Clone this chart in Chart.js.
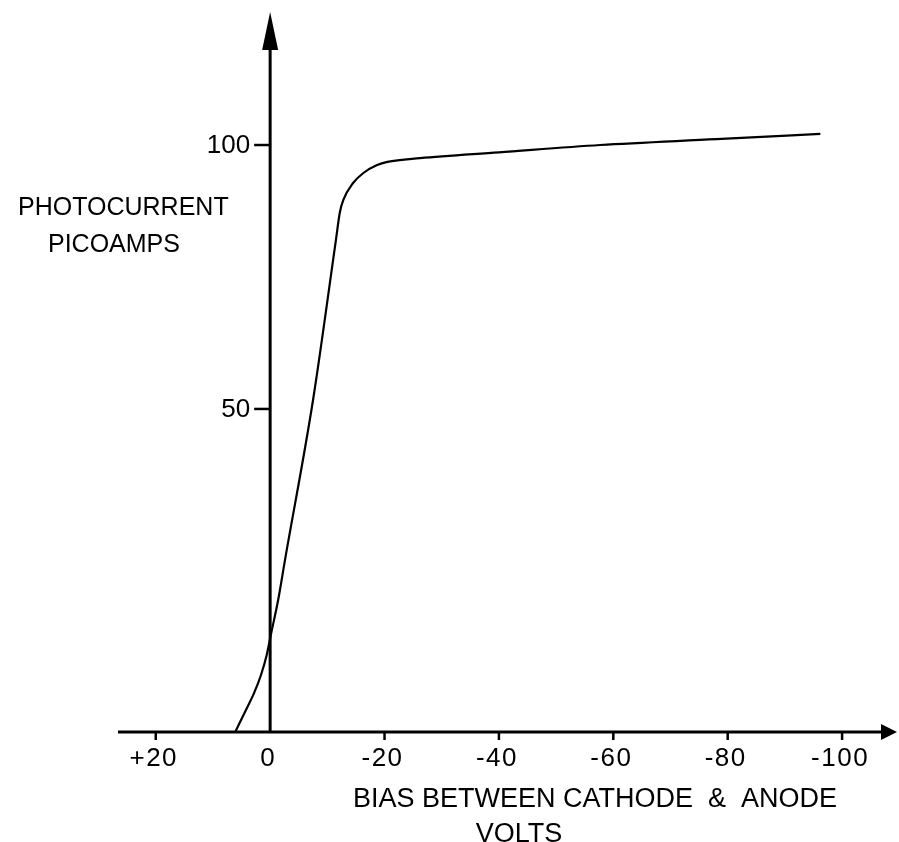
<!DOCTYPE html>
<html>
<head>
<meta charset="utf-8">
<script src="https://cdn.jsdelivr.net/npm/chart.js@4/dist/chart.umd.min.js"></script>
<style>
  html, body { margin: 0; padding: 0; background: #fff; }
  #wrap { width: 899px; height: 842px; }
</style>
</head>
<body>
<div id="wrap"><canvas id="chart" width="899" height="842"></canvas></div>
<script>
// Photocurrent against bias voltage (x runs from positive on the left to negative on the right)
const biasVolts = [6.1, 4.4, 2.8, 1.6, 0.6, -0.2, -1.4, -2.6, -7.5, -11.5, -12.2, -12.8, -14.5, -16.3, -18.7, -20.5, -26.2, -40, -57.7, -78, -96.2];
const photocurrent = [-11.2, -7.4, -3.8, -0.4, 3.4, 7.6, 13.8, 21.4, 51.7, 82, 87.3, 89.6, 92.8, 94.7, 96.2, 96.8, 97.5, 98.6, 100, 101.1, 102.1];

const xTickValues = [20, 0, -20, -40, -60, -80, -100];
const xTickLabels = ['+20', '0', '-20', '-40', '-60', '-80', '-100'];
const yTickValues = [50, 100];
const yTickLabels = ['50', '100'];

const yTitle = ['PHOTOCURRENT', 'PICOAMPS'];
const xTitle = ['BIAS BETWEEN CATHODE  &  ANODE', 'VOLTS'];

// axis extents
const X_MIN = -109.6, X_MAX = 26.6;
const Y_MIN = -11.2, Y_MAX = 125.2;

const FONT = '"Liberation Sans", Arial, sans-serif';

const points = biasVolts.map((v, i) => ({ x: v, y: photocurrent[i] }));

// hand-drawn style axes: lines with arrow heads, short ticks and plain labels
const axesPlugin = {
  id: 'sketchAxes',
  afterDatasetsDraw(chart) {
    const { ctx, chartArea, scales } = chart;
    const xs = scales.x, ys = scales.y;
    const x0 = xs.getPixelForValue(0);
    const yBase = ys.getPixelForValue(Y_MIN);

    ctx.save();
    ctx.strokeStyle = '#000';
    ctx.fillStyle = '#000';
    ctx.lineWidth = 3;
    ctx.lineCap = 'butt';

    // x axis + arrow
    ctx.beginPath();
    ctx.moveTo(chartArea.left, yBase);
    ctx.lineTo(chartArea.right - 12, yBase);
    ctx.stroke();
    ctx.beginPath();
    ctx.moveTo(chartArea.right, yBase);
    ctx.lineTo(chartArea.right - 16, yBase - 8);
    ctx.lineTo(chartArea.right - 16, yBase + 8);
    ctx.closePath();
    ctx.fill();

    // y axis + arrow
    ctx.beginPath();
    ctx.moveTo(x0, yBase);
    ctx.lineTo(x0, chartArea.top + 30);
    ctx.stroke();
    ctx.beginPath();
    ctx.moveTo(x0, chartArea.top);
    ctx.lineTo(x0 - 8, chartArea.top + 38);
    ctx.lineTo(x0 + 8, chartArea.top + 38);
    ctx.closePath();
    ctx.fill();

    // y ticks
    ctx.lineWidth = 2.5;
    ctx.font = '26px ' + FONT;
    ctx.textAlign = 'right';
    ctx.textBaseline = 'middle';
    yTickValues.forEach((v, i) => {
      const py = ys.getPixelForValue(v);
      ctx.beginPath();
      ctx.moveTo(x0 - 16, py);
      ctx.lineTo(x0, py);
      ctx.stroke();
      ctx.fillText(yTickLabels[i], x0 - 20, py + 1);
    });

    // x ticks
    ctx.textAlign = 'center';
    ctx.textBaseline = 'top';
    ctx.letterSpacing = '1.5px';
    xTickValues.forEach((v, i) => {
      const px = xs.getPixelForValue(v);
      if (v !== 0) {
        ctx.beginPath();
        ctx.moveTo(px, yBase);
        ctx.lineTo(px, yBase + 8);
        ctx.stroke();
      }
      ctx.fillText(xTickLabels[i], px - 2, yBase + 14);
    });
    ctx.letterSpacing = '0px';

    // axis titles
    ctx.font = '25px ' + FONT;
    ctx.textAlign = 'left';
    ctx.textBaseline = 'alphabetic';
    ctx.fillText(yTitle[0], 18, 215);
    ctx.fillText(yTitle[1], 48, 252);

    ctx.font = '27px ' + FONT;
    ctx.textAlign = 'center';
    ctx.fillText(xTitle[0], 595, 807);
    ctx.fillText(xTitle[1], 519, 842);
    ctx.restore();
  }
};

new Chart(document.getElementById('chart'), {
  type: 'line',
  data: {
    datasets: [{
      data: points,
      borderColor: '#000',
      borderWidth: 2.2,
      pointRadius: 0,
      cubicInterpolationMode: 'monotone',
      fill: false,
      clip: false
    }]
  },
  options: {
    responsive: false,
    animation: false,
    layout: { padding: { left: 118, right: 2, top: 12, bottom: 110 } },
    plugins: { legend: { display: false }, tooltip: { enabled: false } },
    scales: {
      x: { type: 'linear', display: false, reverse: true, min: X_MIN, max: X_MAX },
      y: { type: 'linear', display: false, min: Y_MIN, max: Y_MAX }
    }
  },
  plugins: [axesPlugin]
});
</script>
</body>
</html>
